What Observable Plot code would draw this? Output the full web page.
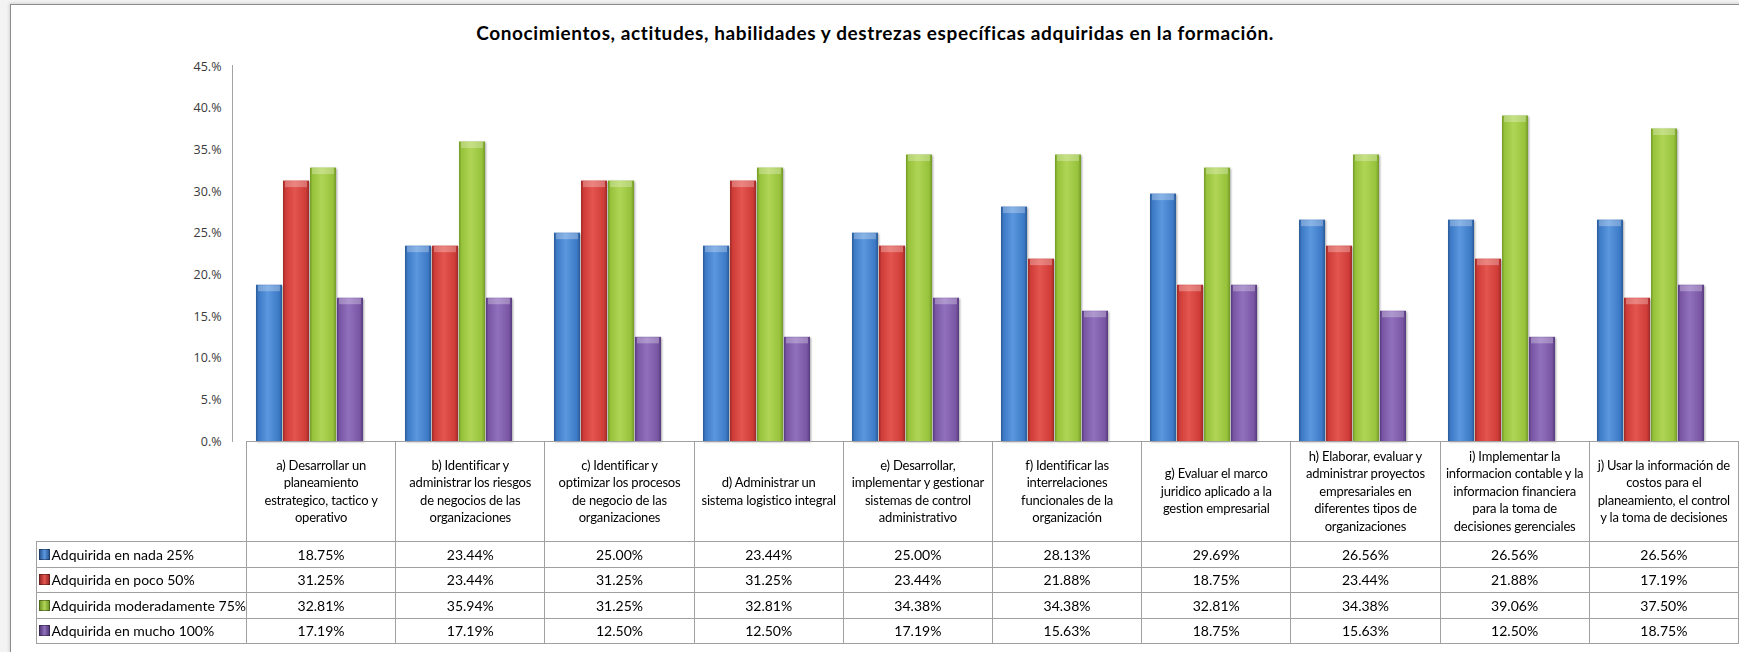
<!DOCTYPE html>
<html>
<head>
<meta charset="utf-8">
<script src="https://cdn.jsdelivr.net/npm/d3@7"></script>
<script src="https://cdn.jsdelivr.net/npm/@observablehq/plot@0.6"></script>
<style>
html, body { margin: 0; padding: 0; width: 1739px; height: 652px; overflow: hidden; background: #f3f3f3; }
#frame { position: absolute; left: 10px; top: 4px; width: 1780px; height: 720px; background: #fff;
  border: 1px solid #8c8c8c; box-shadow: -1px -1px 3px rgba(0,0,0,0.12); }
#title { position: absolute; left: 10px; top: 21px; width: 1730px; text-align: center;
  font: bold 19px "Comic Sans MS", "Lato", sans-serif; color: #000; letter-spacing: 0.6px; }
#chart { position: absolute; left: 0; top: 50px; }
#axisline { position: absolute; left: 232px; top: 65px; height: 377px; border-left: 1.5px solid #a3a3a3; }
#tbl { position: absolute; left: 35.5px; top: 441px; border-collapse: collapse; table-layout: fixed;
  font-family: "Comic Sans MS", "Lato", sans-serif; color: #000; }
#tbl td { border: 1.5px solid #a0a0a0; padding: 0; text-align: center; overflow: visible; }
#tbl tr.hdr td { height: 99px; font-size: 13px; line-height: 17.5px; white-space: pre-line; letter-spacing: -0.2px; }
#tbl tr.hdr td.blank { border-top: none; border-left: none; }
#tbl tr.d td { height: 24.5px; font-size: 14px; }
#tbl td.leg { text-align: left; padding-left: 2px; white-space: nowrap; font-size: 14px; }
.sw { display: inline-block; width: 9px; height: 9px; margin-right: 2px; vertical-align: 0px; border: 0.5px solid rgba(0,0,0,0.35); }
</style>
</head>
<body>
<div id="frame"></div>
<div id="title"></div>
<div id="chart"></div>
<div id="axisline"></div>
<table id="tbl"></table>
<script>
const title = "Conocimientos, actitudes, habilidades y destrezas específicas adquiridas en la formación.";

const categories = [
  "a) Desarrollar un\nplaneamiento\nestrategico, tactico y\noperativo",
  "b) Identificar y\nadministrar los riesgos\nde negocios de las\norganizaciones",
  "c) Identificar y\noptimizar los procesos\nde negocio de las\norganizaciones",
  "d) Administrar un\nsistema logistico integral",
  "e) Desarrollar,\nimplementar y gestionar\nsistemas de control\nadministrativo",
  "f) Identificar las\ninterrelaciones\nfuncionales de la\norganización",
  "g) Evaluar el marco\njuridico aplicado a la\ngestion empresarial",
  "h) Elaborar, evaluar y\nadministrar proyectos\nempresariales en\ndiferentes tipos de\norganizaciones",
  "i) Implementar la\ninformacion contable y la\ninformacion financiera\npara la toma de\ndecisiones gerenciales",
  "j) Usar la información de\ncostos para el\nplaneamiento, el control\ny la toma de decisiones"
];

const series = [
  "Adquirida en nada 25%",
  "Adquirida en poco 50%",
  "Adquirida moderadamente 75%",
  "Adquirida en mucho 100%"
];

const nada     = [18.75, 23.44, 25.00, 23.44, 25.00, 28.13, 29.69, 26.56, 26.56, 26.56];
const poco     = [31.25, 23.44, 31.25, 31.25, 23.44, 21.88, 18.75, 23.44, 21.88, 17.19];
const moderada = [32.81, 35.94, 31.25, 32.81, 34.38, 34.38, 32.81, 34.38, 39.06, 37.50];
const mucho    = [17.19, 17.19, 12.50, 12.50, 17.19, 15.63, 18.75, 15.63, 12.50, 18.75];

const yTicks = [0, 5, 10, 15, 20, 25, 30, 35, 40, 45];

const colors = ["#3d7ac6", "#cf3c38", "#97c23b", "#7956a3"];
const lights = ["#5b97de", "#e4554f", "#b0d556", "#9070bd"];
const darks  = ["#2a5a98", "#9c2a27", "#739a27", "#563b7e"];

const seriesValues = [nada, poco, moderada, mucho];

document.getElementById("title").textContent = title;

const rows = categories.flatMap((c, i) =>
  series.map((s, j) => ({cat: c, series: s, value: seriesValues[j][i]}))
);

const chart = Plot.plot({
  width: 1739,
  height: 410,
  marginLeft: 233,
  marginRight: 13,
  marginTop: 16,
  marginBottom: 19,
  style: {background: "transparent", overflow: "visible", fontFamily: "'Open Sans', sans-serif", fontSize: "12.5px", color: "#3a3a3a"},
  fx: {domain: categories, padding: 0, axis: null},
  x: {domain: series, paddingInner: 0.02, paddingOuter: 0.7, axis: null},
  y: {domain: [0, 45], ticks: yTicks, tickFormat: d => d + ".%", tickSize: 0, tickPadding: 14, label: null},
  color: {domain: series, range: colors},
  marks: [
    Plot.barY(rows, {fx: "cat", x: "series", y: "value", fill: "series"}),
    Plot.tickY(rows, {fx: "cat", x: "series", y: "value", stroke: "white", strokeOpacity: 0.28, strokeWidth: 6, dy: 3, insetLeft: 2, insetRight: 2})
  ]
});

// gradients for the bevelled bar look
const svg = d3.select(chart.tagName.toLowerCase() === "svg" ? chart : chart.querySelector("svg"));
const defs = svg.insert("defs", ":first-child");
colors.forEach((c, i) => {
  const g = defs.append("linearGradient").attr("id", "grad" + i).attr("x1", 0).attr("x2", 1).attr("y1", 0).attr("y2", 0);
  g.append("stop").attr("offset", "0%").attr("stop-color", darks[i]);
  g.append("stop").attr("offset", "10%").attr("stop-color", c);
  g.append("stop").attr("offset", "45%").attr("stop-color", lights[i]);
  g.append("stop").attr("offset", "88%").attr("stop-color", c);
  g.append("stop").attr("offset", "100%").attr("stop-color", darks[i]);
});
svg.selectAll('g[aria-label="bar"]').style("filter", "drop-shadow(1.5px 1px 1px rgba(0,0,0,0.35))");
svg.selectAll('g[aria-label="bar"] rect').each(function() {
  const f = (this.getAttribute("fill") || "").toLowerCase();
  const idx = colors.indexOf(f);
  if (idx >= 0) this.setAttribute("fill", `url(#grad${idx})`);
});

document.getElementById("chart").appendChild(chart);

// data table
const tbl = d3.select("#tbl");
const cg = tbl.append("colgroup");
cg.append("col").style("width", "197.5px");
categories.forEach(() => cg.append("col").style("width", "149.3px"));
const hdr = tbl.append("tr").attr("class", "hdr");
hdr.append("td").attr("class", "blank");
categories.forEach(c => hdr.append("td").text(c));
series.forEach((s, j) => {
  const tr = tbl.append("tr").attr("class", "d");
  const leg = tr.append("td").attr("class", "leg");
  leg.append("span").attr("class", "sw")
    .style("background", `linear-gradient(90deg, ${darks[j]}, ${lights[j]} 50%, ${darks[j]})`);
  leg.append("span").text(s);
  seriesValues[j].forEach(v => tr.append("td").text(v.toFixed(2) + "%"));
});
</script>
</body>
</html>
